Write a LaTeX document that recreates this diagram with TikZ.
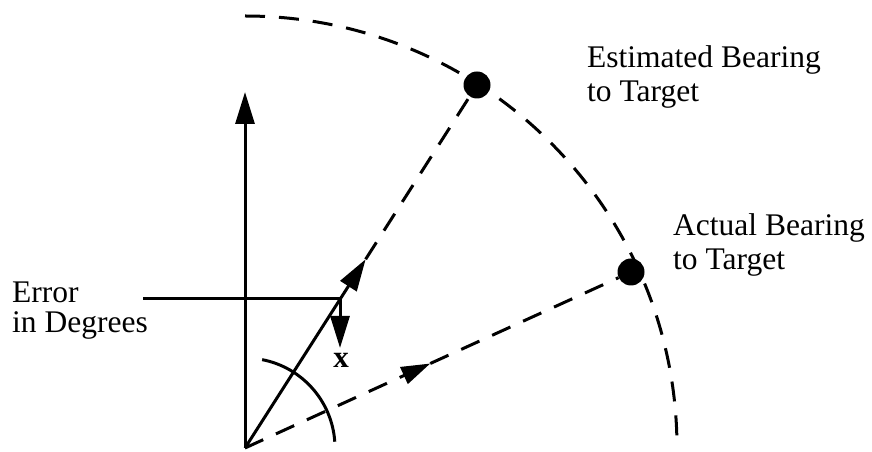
\documentclass[tikz,border=0pt]{standalone}
\usepackage{fontspec}
\setmainfont{Liberation Serif}
\usetikzlibrary{arrows.meta,calc}
\begin{document}
\begin{tikzpicture}[x=1pt,y=1pt,
  ln/.style={line width=3pt},
  dsh/.style={line width=3pt, dash pattern=on 20pt off 14pt},
  bigtip/.style={-{Triangle[length=32pt,width=19pt]}},
  lbl/.style={font=\fontsize{31.5}{34}\selectfont, align=left, inner sep=0pt, anchor=base west},
  dot/.style={circle, fill=black, minimum size=27pt, inner sep=0pt}]
\useasboundingbox[fill=white] (0,0) rectangle (872,452);
\coordinate (O) at (245,4);
\coordinate (Ytop) at (245,360);
\coordinate (Lx) at (143,153);
\coordinate (H) at (340,153);
\coordinate (Xtip) at (340,104);
\node[dot] (E) at (477,367) {};
\node[dot] (A) at (631,180) {};
\coordinate (P) at ($(O)!0.52!(E)$);
\coordinate (M) at ($(O)!0.48!(A)$);
\coordinate (ArcS) at ($(O)+(0,432)$);
\draw[dsh] (ArcS) arc[start angle=90, end angle=0, radius=432];
\draw[ln, bigtip] (O) -- (Ytop);
\draw[ln] (Lx) -- (H);
\draw[ln, bigtip] (H) -- (Xtip);
\draw[ln, bigtip] (O) -- (P);
\draw[dsh] (P) -- (E);
\draw[dsh, -{Triangle[length=29pt,width=18pt]}] (O) -- (M);
\draw[dsh] (M) -- (A);
\coordinate (SmS) at ($(O)+(4:90)$);
\draw[ln] (SmS) arc[start angle=4, end angle=79, radius=90];
\node[font=\fontsize{31}{31}\selectfont\bfseries, anchor=base, inner sep=0pt] (xl) at (341,84) {x};
\node[lbl] (est) at (587,350) {Estimated Bearing\\to Target};
\node[lbl] (act) at (673,182) {Actual Bearing\\to Target};
\node[lbl, font=\fontsize{31.5}{30}\selectfont] (err) at (12,119) {Error\\in Degrees};
\end{tikzpicture}
\end{document}
